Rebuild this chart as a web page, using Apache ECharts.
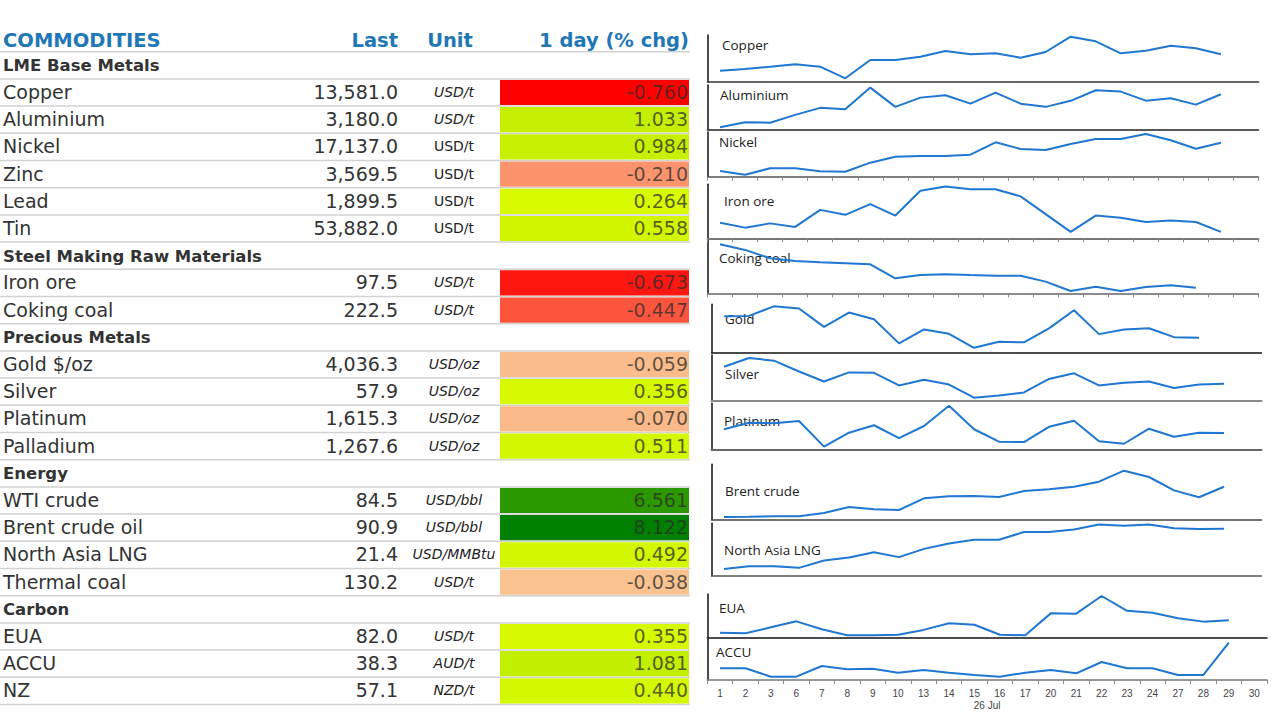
<!DOCTYPE html>
<html>
<head>
<meta charset="utf-8">
<title>Commodities</title>
<script src="https://cdn.jsdelivr.net/npm/echarts@6/dist/echarts.min.js"></script>
<style>
  html, body { margin: 0; padding: 0; background: #fff; }
  #chart { width: 1280px; height: 720px; }
</style>
</head>
<body>
<div id="chart"></div>
<script>
// table data
var sections = ['LME Base Metals', 'Steel Making Raw Materials', 'Precious Metals', 'Energy', 'Carbon'];
var commodities = ['Copper', 'Aluminium', 'Nickel', 'Zinc', 'Lead', 'Tin', 'Iron ore', 'Coking coal',
  'Gold $/oz', 'Silver', 'Platinum', 'Palladium', 'WTI crude', 'Brent crude oil', 'North Asia LNG',
  'Thermal coal', 'EUA', 'ACCU', 'NZ'];
var sectionOf = [0, 0, 0, 0, 0, 0, 1, 1, 2, 2, 2, 2, 3, 3, 3, 3, 4, 4, 4];
var lastPrice = [13581.0, 3180.0, 17137.0, 3569.5, 1899.5, 53882.0, 97.5, 222.5, 4036.3, 57.9, 1615.3,
  1267.6, 84.5, 90.9, 21.4, 130.2, 82.0, 38.3, 57.1];
var units = ['USD/t', 'USD/t', 'USD/t', 'USD/t', 'USD/t', 'USD/t', 'USD/t', 'USD/t', 'USD/oz', 'USD/oz',
  'USD/oz', 'USD/oz', 'USD/bbl', 'USD/bbl', 'USD/MMBtu', 'USD/t', 'USD/t', 'AUD/t', 'NZD/t'];
var dayChg = [-0.760, 1.033, 0.984, -0.210, 0.264, 0.558, -0.673, -0.447, -0.059, 0.356, -0.070, 0.511,
  6.561, 8.122, 0.492, -0.038, 0.355, 1.081, 0.440];

// sparkline data (daily closes, first N trading days)
var days = ['1', '2', '3', '6', '7', '8', '9', '10', '13', '14', '15', '16', '17', '20', '21', '22', '23', '24', '27', '28', '29', '30'];
var monthName = '26 Jul';
var sparkNames = ['Copper', 'Aluminium', 'Nickel', 'Iron ore', 'Coking coal', 'Gold', 'Silver', 'Platinum',
  'Brent crude', 'North Asia LNG', 'EUA', 'ACCU'];
var copperHist = [13233, 13269, 13318, 13369, 13318, 13072, 13460, 13460, 13530, 13651, 13581, 13602, 13509, 13630, 13954, 13856, 13602, 13657, 13763, 13708, 13581];
var aluminiumHist = [3015, 3040, 3038, 3077, 3112, 3105, 3213, 3117, 3163, 3175, 3133, 3188, 3133, 3117, 3147, 3200, 3193, 3148, 3160, 3128, 3180];
var nickelHist = [16524, 16443, 16582, 16582, 16517, 16508, 16704, 16834, 16849, 16849, 16877, 17146, 17001, 16979, 17109, 17217, 17217, 17326, 17189, 17007, 17137];
var ironOreHist = [98.8, 98.1, 98.7, 98.2, 100.6, 99.9, 101.4, 99.8, 103.3, 103.9, 103.5, 103.5, 102.5, 100.0, 97.5, 99.8, 99.5, 98.9, 99.1, 98.9, 97.5];
var cokingCoalHist = [249.6, 246.1, 240.9, 239.2, 238.4, 237.8, 237.1, 228.4, 230.4, 230.9, 230.4, 230.0, 230.0, 226.3, 220.4, 223.1, 220.4, 222.9, 224.0, 222.5];
var goldHist = [4164, 4166, 4223, 4210, 4101, 4186, 4146, 4003, 4086, 4060, 3977, 4013, 4009, 4092, 4200, 4058, 4086, 4093, 4040, 4036];
var silverHist = [61.8, 63.8, 63.2, 60.7, 58.4, 60.5, 60.4, 57.5, 58.8, 57.7, 54.7, 55.2, 55.9, 59.0, 60.3, 57.5, 58.1, 58.4, 56.9, 57.7, 57.9];
var platinumHist = [1635, 1669, 1666, 1678, 1544, 1617, 1656, 1589, 1652, 1758, 1635, 1570, 1568, 1648, 1680, 1572, 1559, 1638, 1596, 1617, 1615];
var brentHist = [62.5, 62.8, 63.2, 63.2, 66.3, 71.9, 69.7, 69.1, 80.0, 81.9, 82.2, 81.2, 86.9, 88.5, 90.9, 95.6, 105.9, 100.0, 87.5, 81.0, 90.9];
var lngHist = [11.6, 12.3, 12.3, 11.9, 13.7, 14.4, 15.7, 14.5, 16.5, 17.8, 18.7, 18.7, 20.6, 20.6, 21.2, 22.4, 22.1, 22.4, 21.5, 21.3, 21.4];
var euaHist = [77.6, 77.4, 79.5, 81.6, 78.8, 76.7, 76.7, 76.9, 78.6, 80.9, 80.4, 76.9, 76.7, 84.4, 84.3, 90.5, 85.3, 84.6, 82.7, 81.5, 82.0];
var accuHist = [35.35, 35.35, 34.38, 34.38, 35.61, 35.23, 35.30, 34.84, 35.15, 34.84, 34.58, 34.38, 34.84, 35.15, 34.77, 36.07, 35.35, 35.35, 34.58, 34.58, 38.30];
var sparkHist = [copperHist, aluminiumHist, nickelHist, ironOreHist, cokingCoalHist, goldHist, silverHist,
  platinumHist, brentHist, lngHist, euaHist, accuHist];
var sparkMin = [13000, 3005, 16400, 96.6, 219, 3950, 54, 1530, 60, 10, 76, 34];
var sparkMax = [13990, 3226, 17369, 104.2, 252.3, 4235, 64.5, 1771, 111.9, 22.7, 91.2, 38.68];

// layout and styles
var FONT = '"DejaVu Sans", Verdana, sans-serif';
var BLUE = '#1f78b6';
var INK = '#333';
var COL = { name: 3, last: 398, unit: 454, cellL: 500, cellR: 689, right: 690 };
var uprightUnits = ['Nickel', 'Zinc', 'Lead', 'Tin'];
var A = [707.5, 1258.5], B = [711.5, 1261.5], C = [707.3, 1267];
var panels = [
  { x: A, top: 35, bottom: 81.7, lx: 722, ly: 45.5, axis: '#333', aw: 1.5 },
  { x: A, top: 85, bottom: 129.3, lx: 720, ly: 95.5, axis: '#222', aw: 1.5 },
  { x: A, top: 132, bottom: 176.7, lx: 719, ly: 142.5, axis: '#555', aw: 1.5, ticks: true },
  { x: A, top: 184.3, bottom: 238.3, lx: 724, ly: 201.5, axis: '#777', aw: 2, ticks: true },
  { x: A, top: 240, bottom: 293.3, lx: 719, ly: 259, axis: '#666', aw: 1.5, ticks: true },
  { x: B, top: 304.3, bottom: 352.3, lx: 725, ly: 320, axis: '#111', aw: 1.5 },
  { x: B, top: 355, bottom: 400.7, lx: 725, ly: 374.5, axis: '#888', aw: 2 },
  { x: B, top: 403.3, bottom: 449.3, lx: 724, ly: 422, axis: '#666', aw: 2 },
  { x: B, top: 464.3, bottom: 519.7, lx: 725, ly: 492, axis: '#444', aw: 1.5 },
  { x: B, top: 523.3, bottom: 575.7, lx: 724, ly: 550.5, axis: '#555', aw: 1.5 },
  { x: C, top: 594, bottom: 637.3, lx: 719, ly: 609, axis: '#111', aw: 1.5 },
  { x: C, top: 639.3, bottom: 680, lx: 716, ly: 653, axis: '#777', aw: 1.5, ticks: true, labels: true }
];

// build table rows: header, then each section followed by its items
var tableRows = [{ type: 'header' }];
sections.forEach(function (s, si) {
  tableRows.push({ type: 'section', text: s });
  sectionOf.forEach(function (sec, k) {
    if (sec === si) tableRows.push({ type: 'item', k: k });
  });
});
var rowOfItem = [];
tableRows.forEach(function (r, i) { if (r.type === 'item') rowOfItem[r.k] = i; });

function txt(text, x, y, align, font, fill) {
  return {
    type: 'text',
    style: { text: text, x: x, y: y, align: align, textAlign: align, verticalAlign: 'middle',
      textVerticalAlign: 'middle', font: font, fill: fill }
  };
}

function renderRow(params, api) {
  var i = params.dataIndex, r = tableRows[i];
  var yc = api.coord([0, i])[1];
  var band = api.size([0, 1])[1];
  var X = function (v) { return api.coord([v, i])[0]; };
  var kids = [{
    type: 'line',
    shape: { x1: X(0), y1: yc + band / 2, x2: X(COL.right), y2: yc + band / 2 },
    style: { stroke: '#d2d2d2', lineWidth: 1.5 }
  }];
  if (r.type === 'header') {
    var hf = 'bold 19.5px ' + FONT;
    kids.push(txt('COMMODITIES', X(COL.name), yc + 2.5, 'left', hf, BLUE));
    kids.push(txt('Last', X(COL.last), yc + 2.5, 'right', hf, BLUE));
    kids.push(txt('Unit', X(COL.unit) - 4, yc + 2.5, 'center', hf, BLUE));
    kids.push(txt('1 day (% chg)', X(COL.cellR), yc + 2.5, 'right', hf, BLUE));
  } else if (r.type === 'section') {
    kids.push(txt(r.text, X(COL.name), yc + 0.5, 'left', 'bold 16.5px ' + FONT, INK));
  } else {
    var k = r.k;
    var lastTxt = lastPrice[k].toLocaleString('en-US', { minimumFractionDigits: 1, maximumFractionDigits: 1 });
    var uf = (uprightUnits.indexOf(commodities[k]) >= 0 ? '' : 'italic ') + '14px ' + FONT;
    kids.push(txt(commodities[k], X(COL.name), yc - 0.5, 'left', '19px ' + FONT, INK));
    kids.push(txt(lastTxt, X(COL.last), yc - 0.5, 'right', '19px ' + FONT, INK));
    kids.push(txt(units[k], X(COL.unit), yc - 0.5, 'center', uf, '#222'));
  }
  return { type: 'group', children: kids };
}

function renderCell(params, api) {
  var row = api.value(0), v = api.value(1);
  var p0 = api.coord([COL.cellL, row]);
  var p1 = api.coord([COL.cellR, row]);
  var h = api.size([0, 1])[1];
  return {
    type: 'group',
    children: [
      { type: 'rect', shape: { x: p0[0], y: p0[1] - h / 2 + 1, width: p1[0] - p0[0], height: h - 2 },
        style: { fill: api.visual('color') } },
      txt(v.toFixed(3), p1[0] - 1, p0[1] - 0.5, 'right', '19px ' + FONT, 'rgba(45,45,45,0.75)')
    ]
  };
}

var negCells = [], posCells = [];
dayChg.forEach(function (v, k) {
  (v < 0 ? negCells : posCells).push([rowOfItem[k], v]);
});

var grids = [{ left: 0, top: 24.5, width: COL.right, height: tableRows.length * 27.2 }];
var xAxes = [{ gridIndex: 0, type: 'value', min: 0, max: COL.right, show: false }];
var yAxes = [{ gridIndex: 0, type: 'category', data: tableRows.map(function (r, i) { return String(i); }),
  inverse: true, show: false }];
var titles = [];
var series = [
  { type: 'custom', xAxisIndex: 0, yAxisIndex: 0, silent: true, renderItem: renderRow,
    data: tableRows.map(function (r, i) { return [0, i]; }), encode: { x: 0, y: 1 } },
  { type: 'custom', xAxisIndex: 0, yAxisIndex: 0, silent: true, z: 3, renderItem: renderCell,
    data: negCells, dimensions: ['row', 'chg'], encode: { y: 0 } },
  { type: 'custom', xAxisIndex: 0, yAxisIndex: 0, silent: true, z: 3, renderItem: renderCell,
    data: posCells, dimensions: ['row', 'chg'], encode: { y: 0 } }
];

panels.forEach(function (p, i) {
  var g = i + 1;
  grids.push({ left: p.x[0], width: p.x[1] - p.x[0], top: p.top, height: p.bottom - p.top });
  xAxes.push({
    gridIndex: g, type: 'category', data: days, boundaryGap: true,
    axisLine: { lineStyle: { color: p.axis, width: p.aw } },
    axisTick: { show: !!p.ticks, length: 4, lineStyle: { color: '#888' } },
    axisLabel: { show: !!p.labels, fontSize: 10, color: '#444', margin: 8, fontFamily: 'Liberation Sans' },
    name: p.labels ? monthName : '', nameLocation: 'middle', nameGap: 20,
    nameTextStyle: { fontSize: 10, color: '#444', fontFamily: 'Liberation Sans' }
  });
  yAxes.push({
    gridIndex: g, type: 'value', min: sparkMin[i], max: sparkMax[i],
    axisLine: { show: true, lineStyle: { color: '#111', width: 1.5 } },
    axisTick: { show: false }, axisLabel: { show: false }, splitLine: { show: false }
  });
  titles.push({
    text: sparkNames[i], left: p.lx, top: p.ly - 8, padding: 0, z: 1,
    textStyle: { fontSize: 13.5, fontWeight: 'normal', color: '#222', fontFamily: '"Open Sans", sans-serif' }
  });
  series.push({
    type: 'line', xAxisIndex: g, yAxisIndex: g, data: sparkHist[i], showSymbol: false, silent: true,
    z: 4, lineStyle: { color: '#1f77d2', width: 2 }
  });
});

var chart = echarts.init(document.getElementById('chart'), null, { renderer: 'svg' });
chart.setOption({
  animation: false,
  backgroundColor: '#fff',
  title: titles,
  grid: grids,
  xAxis: xAxes,
  yAxis: yAxes,
  visualMap: [
    { type: 'continuous', show: false, seriesIndex: 1, dimension: 1, min: Math.min.apply(null, dayChg), max: 0,
      inRange: { color: ['#ff0000', '#f9cc96'] } },
    { type: 'continuous', show: false, seriesIndex: 2, dimension: 1, min: 0, max: Math.max.apply(null, dayChg),
      inRange: { color: ['#e0ff00', '#008000'] } }
  ],
  series: series
});
</script>
</body>
</html>
